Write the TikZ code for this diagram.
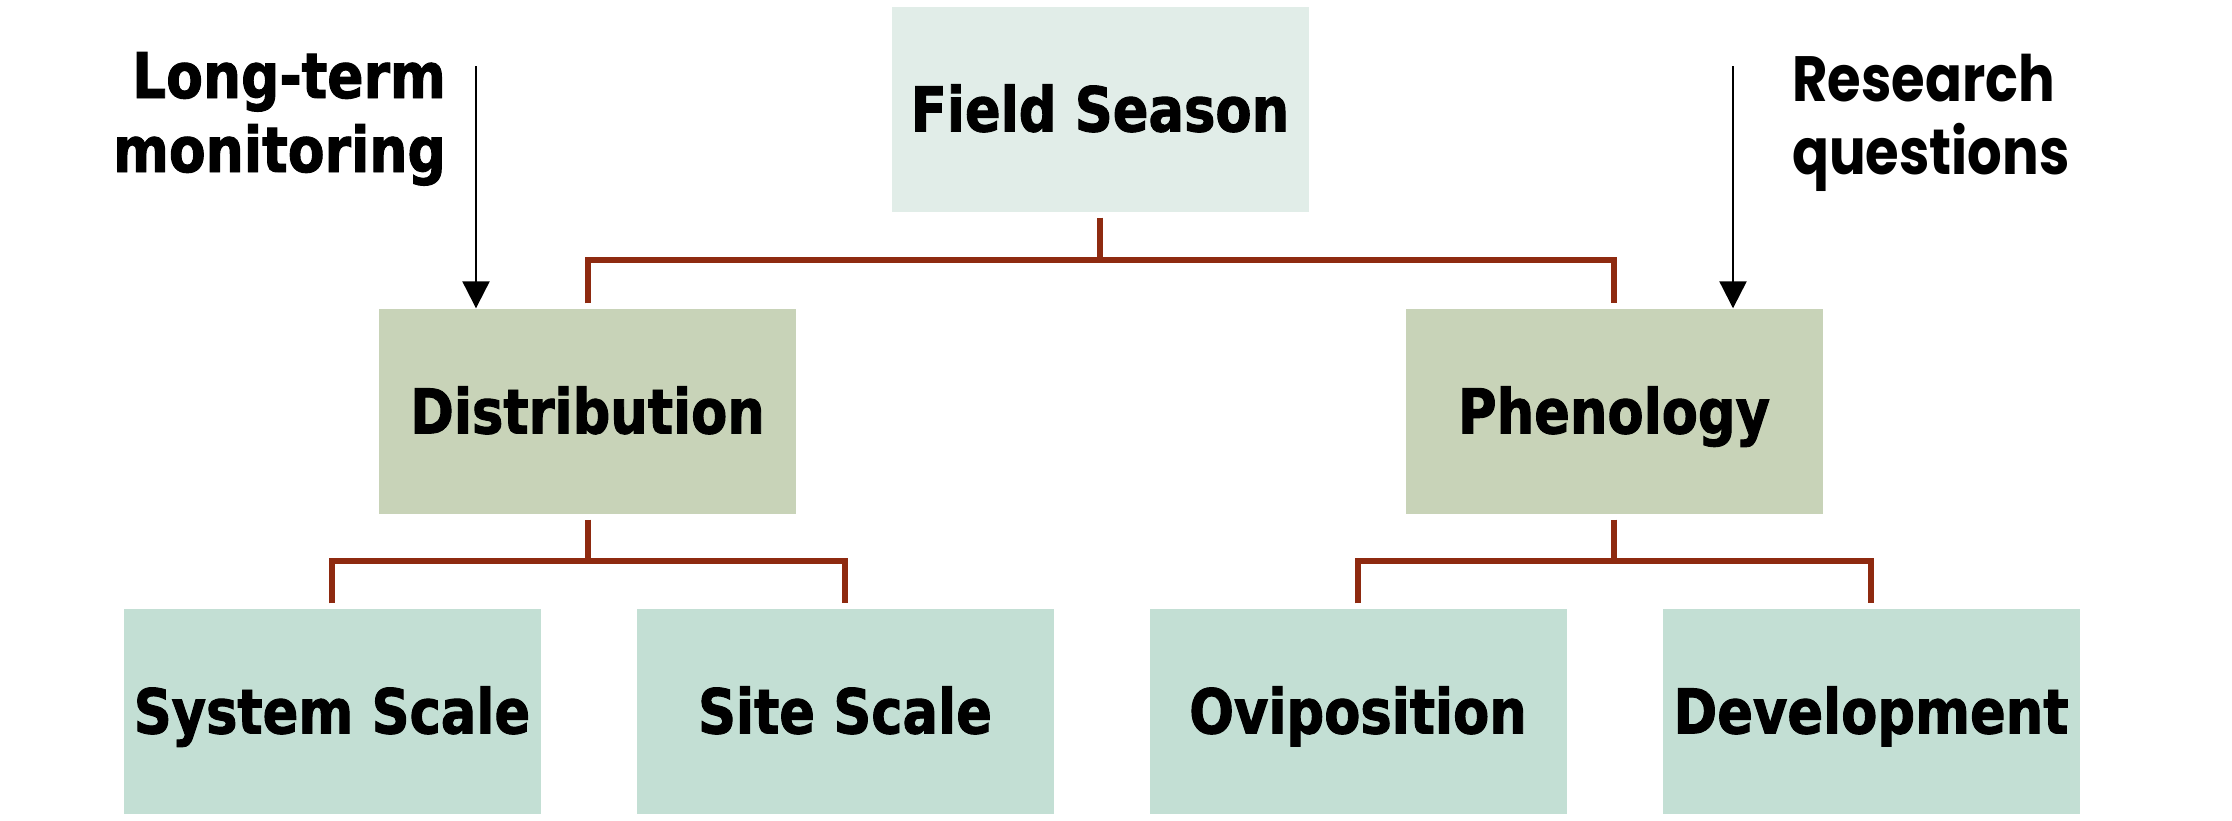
\documentclass[tikz,border=0pt]{standalone}
\usepackage{fontspec}
\usetikzlibrary{arrows.meta}
\newfontfamily\boxfont[FakeStretch=0.85,FakeBold=1.5]{DejaVu Sans Bold}
\newfontfamily\geofont[FakeStretch=0.85]{Poppins Bold}
\definecolor{topfill}{HTML}{E1EDE8}
\definecolor{midfill}{HTML}{C8D3B8}
\definecolor{lowfill}{HTML}{C3DFD4}
\definecolor{connred}{HTML}{8E2A10}
\tikzset{
  boxbase/.style={inner sep=0pt, minimum width=417pt, minimum height=205pt,
    text height=45pt, text depth=0pt, font=\boxfont\fontsize{62}{74}\selectfont},
  topbox/.style={boxbase, fill=topfill},
  midbox/.style={boxbase, fill=midfill},
  lowbox/.style={boxbase, fill=lowfill},
  conn/.style={draw=connred, line width=6pt, miter limit=10},
  arr/.style={draw=black, line width=2.2pt, -{Triangle[length=27pt,width=27pt]}},
  sidelabel/.style={inner sep=0pt, font=\boxfont\fontsize{63}{74}\selectfont},
  geolabel/.style={inner sep=0pt, font=\geofont\fontsize{64}{73}\selectfont}
}
\begin{document}
\begin{tikzpicture}[x=1pt,y=-1pt]
\useasboundingbox (0,0) rectangle (2232,820);
\node[topbox] (fs) at (1100,109) {Field Season};
\node[midbox] (dist) at (587.5,411) {Distribution};
\node[midbox] (phen) at (1614,411) {Phenology};
\node[lowbox] (sys) at (332,711) {System Scale};
\node[lowbox] (site) at (845,711) {Site Scale};
\node[lowbox] (ovi) at (1358,711) {Oviposition};
\node[lowbox] (dev) at (1871,711) {Development};
% connectors
\coordinate (b1) at (1100,260);
\coordinate (b2) at (587.5,561);
\coordinate (b3) at (1614,561);
\draw[conn] ([yshift=-6pt]fs.south) -- (fs.south |- b1);
\draw[conn] ([yshift=5pt]dist.north) -- (dist.north |- b1) -- (phen.north |- b1) -- ([yshift=5pt]phen.north);
\draw[conn] ([yshift=-6pt]dist.south) -- (dist.south |- b2);
\draw[conn] ([yshift=5pt]sys.north) -- (sys.north |- b2) -- (site.north |- b2) -- ([yshift=5pt]site.north);
\draw[conn] ([yshift=-6pt]phen.south) -- (phen.south |- b3);
\draw[conn] ([yshift=5pt]ovi.north) -- (ovi.north |- b3) -- (dev.north |- b3) -- ([yshift=5pt]dev.north);
% side labels and arrows
\node[sidelabel, anchor=base east, align=right] (ltm) at (446,172) {Long-term\\monitoring};
\node[geolabel, anchor=base west, align=left] (rq) at (1792,174) {Research\\questions};
\coordinate (a1) at (476,66);
\coordinate (a2) at (1733,66);
\draw[arr] (a1) -- (a1 |- dist.north);
\draw[arr] (a2) -- (a2 |- phen.north);
\end{tikzpicture}
\end{document}
